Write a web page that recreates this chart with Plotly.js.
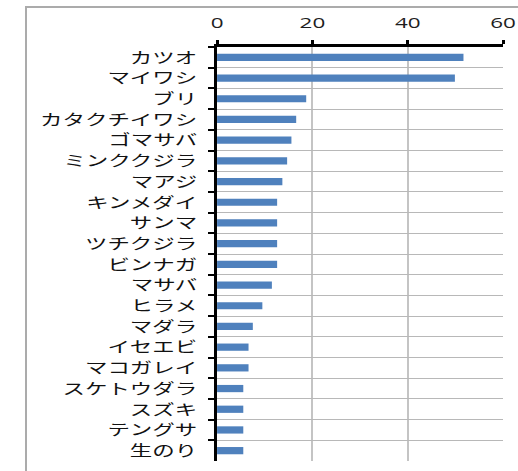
<!DOCTYPE html>
<html>
<head>
<meta charset="utf-8">
<script src="https://cdn.plot.ly/plotly-3.0.1.min.js"></script>
<style>
  html, body { margin: 0; padding: 0; background: #ffffff; overflow: hidden; }
  #frame { position: absolute; left: 25px; top: 6px; width: 600px; height: 600px;
           border: 2px solid #ababab; box-sizing: border-box; }
  #wrap { position: absolute; left: 0; top: 0; width: 346px; height: 471px;
          transform: scaleX(1.4971); transform-origin: 0 0; }
</style>
</head>
<body>
<div id="frame"></div>
<div id="wrap"><div id="chart"></div></div>
<script>
// Categories (top to bottom)
const categories = ["カツオ", "マイワシ", "ブリ", "カタクチイワシ", "ゴマサバ", "ミンククジラ", "マアジ",
  "キンメダイ", "サンマ", "ツチクジラ", "ビンナガ", "マサバ", "ヒラメ", "マダラ", "イセエビ",
  "マコガレイ", "スケトウダラ", "スズキ", "テングサ", "生のり"];
// Values
const values = [51.7, 49.9, 18.7, 16.6, 15.6, 14.7, 13.7, 12.6, 12.6, 12.6, 12.6, 11.5, 9.5, 7.5,
  6.6, 6.6, 5.5, 5.5, 5.5, 5.5];
const xTickVals = [0, 20, 40, 60];
const xTickText = ["0", "20", "40", "60"];

const trace = {
  type: "bar",
  orientation: "h",
  x: values,
  y: categories,
  marker: { color: "#4f81bd", line: { width: 0 } },
  hoverinfo: "x+y"
};

const layout = {
  width: 346,
  height: 471,
  margin: { l: 144.7, r: 10.2, t: 47, b: 10.3, pad: 0 },
  paper_bgcolor: "rgba(0,0,0,0)",
  plot_bgcolor: "rgba(0,0,0,0)",
  bargap: 0.65,
  showlegend: false,
  xaxis: {
    side: "top",
    range: [0, 60],
    tickmode: "array",
    tickvals: xTickVals,
    ticktext: xTickText,
    ticks: "outside",
    ticklen: 4,
    tickwidth: 2,
    tickcolor: "#000",
    showline: true,
    linecolor: "#000",
    linewidth: 3,
    showgrid: true,
    gridcolor: "#c4c4c4",
    gridwidth: 1.3,
    zeroline: false,
    tickfont: { family: "Open Sans, sans-serif", size: 15, color: "#1e1e1e" },
    ticklabelstandoff: 6,
    fixedrange: true
  },
  yaxis: {
    type: "category",
    autorange: "reversed",
    tickson: "boundaries",
    ticks: "outside",
    ticklen: 3.5,
    tickwidth: 2,
    tickcolor: "#000",
    showline: true,
    linecolor: "#000",
    linewidth: 2.3,
    showgrid: true,
    gridcolor: "#b8b8b8",
    gridwidth: 1,
    zeroline: false,
    tickfont: { family: "Noto Sans CJK JP, sans-serif", size: 15, color: "#111" },
    ticklabelstandoff: 8,
    fixedrange: true
  }
};

Plotly.newPlot("chart", [trace], layout, { displayModeBar: false, staticPlot: true });
</script>
</body>
</html>
